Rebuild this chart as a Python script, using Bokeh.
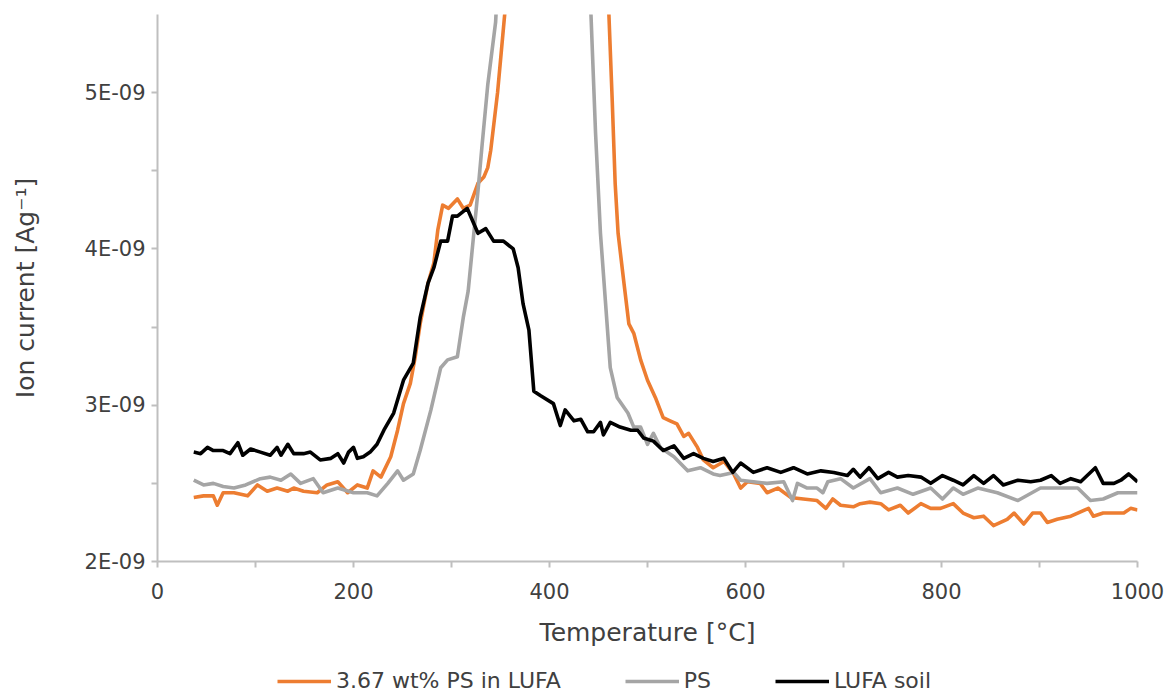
from bokeh.plotting import figure
from bokeh.models import (Range1d, FixedTicker, CustomJSTickFormatter, Legend, LegendItem)
from bokeh.layouts import column
from bokeh.embed import file_html
from bokeh.resources import INLINE
import numpy as np

# ---- data (ion current in units of 1E-09 A/g) ----
t_mix = [37, 47, 57, 61, 67, 78, 92, 102, 112, 122, 133, 139, 149, 163, 173, 184, 194, 204, 214, 220,
         228, 238, 245, 251, 258, 263, 268, 276, 282, 286, 291, 297, 306, 312, 319, 327, 333, 337, 340, 347,
         355, 365, 390, 420, 445, 460, 464, 467, 470, 476, 481, 486, 493, 500, 508, 516, 523, 530, 537, 542,
         551, 557, 567, 578, 588, 595, 602, 615, 622, 633, 646, 659, 673, 682, 689, 697, 710, 717, 727, 738,
         746, 758, 766, 779, 789, 799, 812, 822, 833, 843, 853, 867, 874, 884, 893, 901, 908, 918, 932, 939,
         950, 955, 965, 976, 986, 993, 1000]
v_mix = [2.41, 2.42, 2.42, 2.36, 2.44, 2.44, 2.42, 2.49, 2.45, 2.47, 2.45, 2.47, 2.45, 2.44, 2.49, 2.51, 2.44, 2.49, 2.47, 2.58,
         2.54, 2.67, 2.84, 3.01, 3.14, 3.31, 3.52, 3.78, 3.91, 4.12, 4.28, 4.26, 4.32, 4.26, 4.28, 4.42, 4.46, 4.52, 4.63, 5.00,
         5.55, 6.50, 8.50, 9.50, 8.00, 5.60, 4.95, 4.42, 4.10, 3.78, 3.52, 3.46, 3.29, 3.16, 3.05, 2.92, 2.90, 2.88, 2.80, 2.82,
         2.73, 2.65, 2.60, 2.64, 2.56, 2.47, 2.51, 2.50, 2.44, 2.47, 2.41, 2.40, 2.39, 2.34, 2.40, 2.36, 2.35, 2.37, 2.38, 2.37,
         2.33, 2.36, 2.31, 2.37, 2.34, 2.34, 2.37, 2.31, 2.28, 2.29, 2.23, 2.27, 2.31, 2.24, 2.31, 2.31, 2.25, 2.27, 2.29, 2.31,
         2.34, 2.29, 2.31, 2.31, 2.31, 2.34, 2.33]

t_ps = [37, 47, 57, 67, 78, 90, 105, 115, 126, 136, 146, 159, 169, 184, 200, 214, 224, 235, 245, 251,
        261, 268, 279, 289, 296, 306, 312, 317, 322, 327, 331, 337, 345, 352, 360, 380, 400, 420, 435, 442,
        447, 452, 457, 462, 469, 480, 486, 493, 500, 506, 513, 527, 541, 554, 567, 574, 588, 595, 608, 622,
        639, 648, 653, 663, 673, 679, 684, 697, 710, 727, 738, 755, 771, 789, 801, 812, 822, 837, 857, 878,
        901, 921, 939, 952, 965, 980, 996, 1000]
v_ps = [2.52, 2.49, 2.50, 2.48, 2.47, 2.49, 2.53, 2.54, 2.52, 2.56, 2.50, 2.53, 2.44, 2.47, 2.44, 2.44, 2.42, 2.50, 2.58, 2.52,
        2.56, 2.71, 2.97, 3.24, 3.29, 3.31, 3.56, 3.73, 4.05, 4.37, 4.65, 5.05, 5.45, 6.30, 7.20, 8.50, 9.00, 8.00, 6.50, 5.55,
        4.74, 4.10, 3.67, 3.24, 3.05, 2.95, 2.86, 2.86, 2.75, 2.82, 2.73, 2.67, 2.58, 2.60, 2.56, 2.55, 2.57, 2.52, 2.51, 2.50,
        2.51, 2.39, 2.50, 2.47, 2.47, 2.44, 2.51, 2.53, 2.47, 2.53, 2.44, 2.47, 2.43, 2.47, 2.40, 2.47, 2.43, 2.47, 2.44, 2.39,
        2.47, 2.47, 2.47, 2.39, 2.40, 2.44, 2.44, 2.44]

t_lufa = [37, 44, 51, 57, 67, 74, 82, 87, 95, 105, 115, 122, 126, 133, 139, 149, 156, 166, 177, 184,
          190, 195, 200, 204, 210, 217, 224, 231, 241, 251, 261, 268, 276, 282, 289, 296, 301, 306, 316, 327,
          335, 343, 353, 363, 368, 373, 379, 384, 391, 404, 411, 416, 425, 432, 439, 445, 452, 455, 462, 472,
          483, 490, 496, 506, 516, 527, 537, 547, 557, 567, 578, 587, 595, 608, 622, 636, 649, 663, 677, 690,
          704, 710, 717, 726, 735, 746, 755, 766, 779, 789, 801, 812, 822, 833, 843, 853, 863, 878, 891, 901,
          912, 921, 932, 942, 957, 965, 976, 983, 991, 1000]
v_lufa = [2.70, 2.69, 2.73, 2.71, 2.71, 2.69, 2.76, 2.68, 2.72, 2.70, 2.68, 2.73, 2.68, 2.75, 2.69, 2.69, 2.70, 2.65, 2.66, 2.69,
          2.63, 2.70, 2.73, 2.66, 2.67, 2.70, 2.75, 2.84, 2.95, 3.16, 3.27, 3.56, 3.78, 3.88, 4.05, 4.05, 4.21, 4.21, 4.26, 4.10,
          4.13, 4.05, 4.05, 4.00, 3.88, 3.65, 3.48, 3.09, 3.06, 3.01, 2.87, 2.97, 2.90, 2.91, 2.83, 2.83, 2.89, 2.81, 2.89, 2.86,
          2.84, 2.84, 2.79, 2.77, 2.71, 2.74, 2.66, 2.69, 2.66, 2.64, 2.66, 2.57, 2.63, 2.57, 2.60, 2.57, 2.60, 2.56, 2.58, 2.57,
          2.55, 2.59, 2.54, 2.60, 2.53, 2.57, 2.54, 2.55, 2.54, 2.50, 2.55, 2.52, 2.49, 2.55, 2.50, 2.55, 2.49, 2.52, 2.51, 2.52,
          2.55, 2.50, 2.53, 2.51, 2.60, 2.50, 2.50, 2.52, 2.56, 2.51]

series_names = ["3.67 wt% PS in LUFA", "PS", "LUFA soil"]
series_colors = ["#ED7D31", "#A5A5A5", "#000000"]

y_ticks = [2.0, 3.0, 4.0, 5.0]
y_minor = [2.5, 3.5, 4.5]
x_ticks = [0, 200, 400, 600, 800, 1000]
x_minor = [100, 300, 500, 700, 900]

SCALE = 1e-9
FONT = "DejaVu Sans"
TXT = "#404040"
AX = "#BFBFBF"
LW = 3.6

p = figure(width=1168, height=655, output_backend="svg", toolbar_location=None,
           x_range=Range1d(0, 1000), y_range=Range1d(2.0 * SCALE, 5.5 * SCALE),
           min_border_left=157, min_border_right=31, min_border_top=14, min_border_bottom=94)
p.outline_line_color = None
p.xgrid.visible = False
p.ygrid.visible = False
p.background_fill_color = "white"
p.border_fill_color = "white"

for t, v, c in zip([t_mix, t_ps, t_lufa], [v_mix, v_ps, v_lufa], series_colors):
    p.line(np.array(t), np.array(v) * SCALE, line_color=c, line_width=LW, line_join="round")

# axes
xa = p.xaxis[0]
xa.ticker = FixedTicker(ticks=x_ticks, minor_ticks=x_minor)
xa.axis_label = "Temperature [°C]"
ya = p.yaxis[0]
ya.ticker = FixedTicker(ticks=[v * SCALE for v in y_ticks], minor_ticks=[v * SCALE for v in y_minor])
ya.formatter = CustomJSTickFormatter(code="""
const m = Math.round(tick * 1e9);
return m + 'E-09';
""")
ya.axis_label = "Ion current [Ag\u207b\u00b9]"

for ax in (xa, ya):
    ax.axis_line_color = AX
    ax.axis_line_width = 2
    ax.major_tick_line_color = AX
    ax.minor_tick_line_color = AX
    ax.major_tick_line_width = 2
    ax.minor_tick_line_width = 2
    ax.major_tick_in = 0
    ax.major_tick_out = 6
    ax.minor_tick_in = 0
    ax.minor_tick_out = 6
    ax.major_label_text_font = FONT
    ax.major_label_text_font_size = "21px"
    ax.major_label_text_color = TXT
    ax.axis_label_text_font = FONT
    ax.axis_label_text_font_size = "25px"
    ax.axis_label_text_font_style = "normal"
    ax.axis_label_text_color = TXT

xa.major_label_standoff = 15
xa.axis_label_standoff = 16
ya.major_label_standoff = 6
ya.axis_label_standoff = 42

# ---- legend strip below the chart (its frame is aligned with the chart's) ----
lg = figure(width=1168, height=40, output_backend="svg", toolbar_location=None,
            x_axis_type=None, y_axis_type=None, x_range=Range1d(0, 1), y_range=Range1d(0, 1),
            min_border_left=0, min_border_right=0, min_border_top=0, min_border_bottom=0)
lg.outline_line_color = None
lg.xgrid.visible = False
lg.ygrid.visible = False
keys = [lg.line([-2, -1], [-2, -1], line_color=c, line_width=LW) for c in series_colors]
legend = Legend(items=[LegendItem(label=n, renderers=[r]) for n, r in zip(series_names, keys)],
                orientation="horizontal", location=(120, 2),
                glyph_width=54, glyph_height=22, label_standoff=5, spacing=64,
                padding=0, margin=0, border_line_color=None, background_fill_alpha=0,
                label_text_font=FONT, label_text_font_size="22px", label_text_color=TXT)
lg.add_layout(legend, "center")

layout = column(p, lg, spacing=0)
open("out.html", "w").write(file_html(layout, INLINE))
